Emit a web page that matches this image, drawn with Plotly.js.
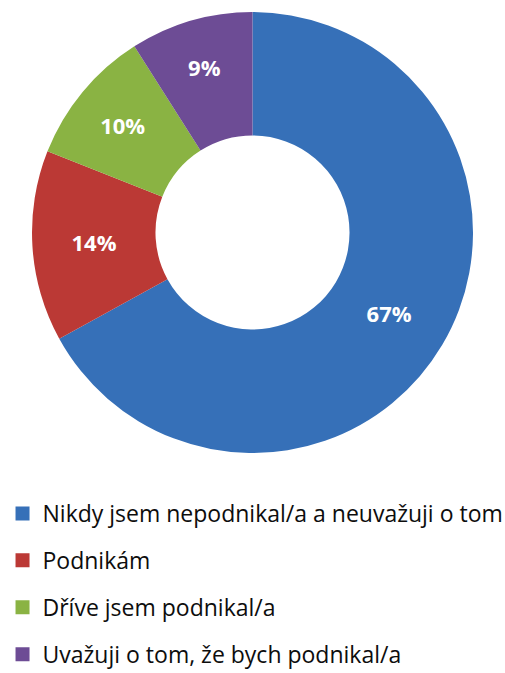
<!DOCTYPE html>
<html><head><meta charset="utf-8">
<script src="https://cdn.plot.ly/plotly-3.0.1.min.js"></script>
<style>html,body{margin:0;padding:0;background:#fff;}#chart{width:505px;height:673px;}</style>
</head><body><div id="chart"></div>
<script>
const labels = ["Nikdy jsem nepodnikal/a a neuvažuji o tom", "Podnikám", "Dříve jsem podnikal/a", "Uvažuji o tom, že bych podnikal/a"];
const values = [67, 14, 10, 9];
const colors = ["#3670b8", "#bb3935", "#8ab343", "#6d4c95"];

const traces = [{
  type: "pie",
  labels: labels,
  values: values,
  sort: false,
  direction: "clockwise",
  rotation: 0,
  hole: 0.44,
  marker: {colors: colors, line: {color: "#ffffff", width: 0}},
  texttemplate: "%{value}%",
  textposition: "inside",
  insidetextorientation: "horizontal",
  textfont: {family: "Open Sans", size: 22, color: "#ffffff", weight: "bold"},
  showlegend: false,
  domain: {x: [32/505, 473/505], y: [1 - 453/673, 1 - 12/673]},
  hoverinfo: "label+percent"
}];
labels.forEach((l, i) => {
  traces.push({
    type: "scatter", mode: "markers", x: [null], y: [null], name: l,
    legendgroup: "g" + i,
    marker: {symbol: "square", size: 14, color: colors[i]},
    showlegend: true, hoverinfo: "skip"
  });
});

Plotly.newPlot("chart", traces, {
  width: 505, height: 673,
  margin: {l: 0, r: 0, t: 0, b: 0, autoexpand: false},
  paper_bgcolor: "#ffffff", plot_bgcolor: "#ffffff",
  xaxis: {visible: false}, yaxis: {visible: false},
  showlegend: true,
  legend: {
    x: 0.005, y: 1 - 492/673, xanchor: "left", yanchor: "top",
    font: {family: "Open Sans", size: 23, color: "#0d0d0d"},
    tracegroupgap: 14, itemwidth: 30, bgcolor: "rgba(0,0,0,0)"
  }
}, {displayModeBar: false, staticPlot: true});
</script></body></html>
